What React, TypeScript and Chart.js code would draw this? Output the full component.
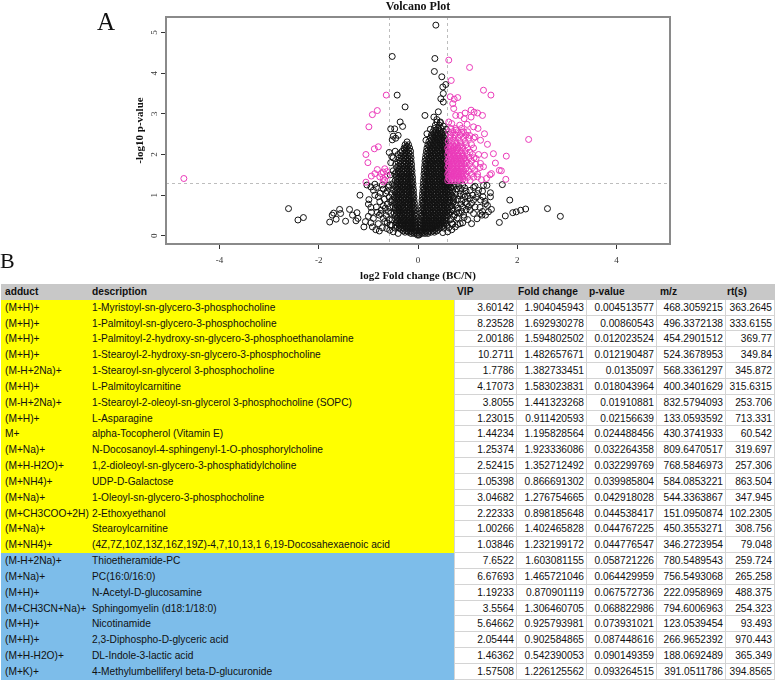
import React, { useEffect, useRef } from 'react';
import { Chart, registerables } from 'chart.js';

Chart.register(...registerables);

// ---------------- Volcano plot data ----------------
const xTicks = [-4, -2, 0, 2, 4];
const yTicks = [0, 1, 2, 3, 4, 5];
const fcCutoff = 0.585; // log2(1.5)
const pCutoff = 1.301; // -log10(0.05)

// dense left arm of the "V": [y, [x...]]
const coreLeft: [number, number[]][] = [
  [0.02, [-0.01]],
  [0.06, [-0.03, -0.08, -0.14]],
  [0.12, [-0.03, -0.09, -0.15, -0.22, -0.3]],
  [0.19, [-0.04, -0.1, -0.16, -0.23, -0.3, -0.38, -0.46]],
  [0.26, [-0.04, -0.1, -0.17, -0.24, -0.31, -0.38, -0.45, -0.53]],
  [0.33, [-0.04, -0.09, -0.15, -0.22, -0.29, -0.36, -0.44]],
  [0.4, [-0.05, -0.1, -0.17, -0.23, -0.3, -0.37, -0.45, -0.52]],
  [0.48, [-0.05, -0.11, -0.18, -0.25, -0.32, -0.39, -0.46]],
  [0.56, [-0.06, -0.12, -0.19, -0.26, -0.33, -0.41, -0.48, -0.55]],
  [0.64, [-0.06, -0.11, -0.18, -0.25, -0.31, -0.38, -0.45]],
  [0.72, [-0.07, -0.13, -0.2, -0.27, -0.34, -0.42, -0.5]],
  [0.8, [-0.07, -0.12, -0.19, -0.26, -0.33, -0.39, -0.47]],
  [0.88, [-0.08, -0.14, -0.21, -0.28, -0.35, -0.43, -0.52]],
  [0.96, [-0.08, -0.13, -0.2, -0.27, -0.34, -0.41, -0.48]],
  [1.04, [-0.09, -0.15, -0.22, -0.29, -0.36, -0.44, -0.53]],
  [1.12, [-0.09, -0.14, -0.21, -0.28, -0.35, -0.42, -0.49]],
  [1.2, [-0.1, -0.16, -0.23, -0.3, -0.37, -0.45]],
  [1.28, [-0.1, -0.15, -0.22, -0.29, -0.36, -0.43, -0.51]],
  [1.36, [-0.11, -0.17, -0.24, -0.31, -0.38, -0.46]],
  [1.44, [-0.11, -0.16, -0.23, -0.3, -0.37, -0.44]],
  [1.52, [-0.12, -0.18, -0.25, -0.32, -0.39, -0.47]],
  [1.6, [-0.12, -0.18, -0.25, -0.32, -0.4, -0.5]],
  [1.68, [-0.13, -0.19, -0.26, -0.34, -0.43]],
  [1.76, [-0.13, -0.2, -0.27, -0.35, -0.45]],
  [1.84, [-0.14, -0.2, -0.28, -0.36]],
  [1.92, [-0.14, -0.21, -0.29, -0.38, -0.5]],
  [2.0, [-0.15, -0.22, -0.3, -0.4]],
  [2.08, [-0.15, -0.23, -0.32, -0.46]],
  [2.16, [-0.17, -0.24, -0.28]],
  [2.24, [-0.19, -0.26]],
];

// the same arm, the features lying between the rows above
const coreLeftFill: [number, number[]][] = [
  [0.09, [-0.06, -0.12, -0.19, -0.26]],
  [0.16, [-0.06, -0.13, -0.2, -0.27, -0.34]],
  [0.23, [-0.07, -0.13, -0.2, -0.27, -0.35, -0.42]],
  [0.3, [-0.07, -0.13, -0.19, -0.26, -0.33, -0.4]],
  [0.37, [-0.07, -0.13, -0.2, -0.27, -0.34, -0.41]],
  [0.44, [-0.08, -0.14, -0.21, -0.28, -0.35, -0.42]],
  [0.52, [-0.08, -0.15, -0.22, -0.29, -0.36, -0.43]],
  [0.6, [-0.09, -0.15, -0.22, -0.29, -0.35, -0.42]],
  [0.68, [-0.09, -0.16, -0.23, -0.3, -0.38, -0.46]],
  [0.76, [-0.1, -0.16, -0.23, -0.3, -0.37, -0.43]],
  [0.84, [-0.1, -0.17, -0.24, -0.31, -0.39, -0.47]],
  [0.92, [-0.11, -0.17, -0.24, -0.31, -0.38, -0.45]],
  [1.0, [-0.11, -0.18, -0.25, -0.32, -0.4]],
  [1.08, [-0.12, -0.18, -0.25, -0.32, -0.39, -0.46]],
  [1.16, [-0.12, -0.19, -0.26, -0.33, -0.41]],
  [1.24, [-0.13, -0.19, -0.26, -0.33, -0.4, -0.48]],
  [1.32, [-0.13, -0.2, -0.27, -0.34, -0.42]],
  [1.4, [-0.14, -0.2, -0.27, -0.34, -0.41]],
  [1.48, [-0.14, -0.21, -0.28, -0.35, -0.43]],
  [1.56, [-0.15, -0.22, -0.29, -0.36, -0.44]],
  [1.64, [-0.15, -0.22, -0.29, -0.37]],
  [1.72, [-0.16, -0.23, -0.3, -0.39]],
  [1.8, [-0.17, -0.24, -0.31, -0.4]],
  [1.88, [-0.17, -0.24, -0.32]],
  [1.96, [-0.18, -0.25, -0.34]],
  [2.04, [-0.19, -0.26, -0.35]],
  [2.12, [-0.2, -0.27]],
  [2.2, [-0.22]],
];

// dense right arm of the "V" (non-significant part)
const coreRight: [number, number[]][] = [
  [0.02, [0.02]],
  [0.06, [0.03, 0.08, 0.14, 0.2]],
  [0.12, [0.03, 0.09, 0.16, 0.23, 0.3, 0.38]],
  [0.19, [0.04, 0.1, 0.17, 0.24, 0.3, 0.37, 0.44, 0.52]],
  [0.26, [0.04, 0.1, 0.17, 0.24, 0.31, 0.38, 0.45, 0.52, 0.58]],
  [0.33, [0.05, 0.11, 0.18, 0.25, 0.32, 0.39, 0.46, 0.53]],
  [0.4, [0.05, 0.12, 0.19, 0.26, 0.33, 0.4, 0.47, 0.54]],
  [0.48, [0.06, 0.11, 0.18, 0.25, 0.32, 0.39, 0.46, 0.53, 0.6]],
  [0.56, [0.06, 0.13, 0.2, 0.27, 0.34, 0.41, 0.48, 0.55, 0.62]],
  [0.64, [0.07, 0.12, 0.19, 0.26, 0.33, 0.4, 0.47, 0.54, 0.61, 0.68]],
  [0.72, [0.07, 0.14, 0.21, 0.28, 0.35, 0.42, 0.49, 0.56, 0.64]],
  [0.8, [0.08, 0.13, 0.2, 0.27, 0.34, 0.41, 0.48, 0.55, 0.62, 0.7]],
  [0.88, [0.08, 0.15, 0.22, 0.29, 0.36, 0.43, 0.5, 0.57, 0.65]],
  [0.96, [0.09, 0.14, 0.21, 0.28, 0.35, 0.42, 0.49, 0.56, 0.63, 0.71]],
  [1.04, [0.09, 0.16, 0.23, 0.3, 0.37, 0.44, 0.51, 0.58, 0.66]],
  [1.12, [0.1, 0.15, 0.22, 0.29, 0.36, 0.43, 0.5, 0.57, 0.64]],
  [1.2, [0.1, 0.17, 0.24, 0.31, 0.38, 0.45, 0.52, 0.59, 0.67]],
  [1.28, [0.11, 0.16, 0.23, 0.3, 0.37, 0.44, 0.51, 0.57, 0.63]],
  [1.36, [0.11, 0.18, 0.25, 0.32, 0.39, 0.46, 0.53]],
  [1.44, [0.12, 0.17, 0.24, 0.31, 0.38, 0.45, 0.52, 0.57]],
  [1.52, [0.12, 0.19, 0.26, 0.33, 0.4, 0.47, 0.54]],
  [1.6, [0.13, 0.18, 0.25, 0.32, 0.39, 0.46, 0.53, 0.58]],
  [1.68, [0.13, 0.2, 0.27, 0.34, 0.41, 0.48, 0.55]],
  [1.76, [0.14, 0.19, 0.26, 0.33, 0.4, 0.47, 0.54]],
  [1.84, [0.14, 0.21, 0.28, 0.35, 0.42, 0.49, 0.56]],
  [1.92, [0.15, 0.22, 0.29, 0.36, 0.43, 0.5, 0.57]],
  [2.0, [0.16, 0.23, 0.3, 0.37, 0.44, 0.51]],
  [2.08, [0.17, 0.24, 0.31, 0.38, 0.45, 0.52, 0.57]],
  [2.16, [0.18, 0.25, 0.32, 0.39, 0.46, 0.53]],
  [2.24, [0.2, 0.27, 0.34, 0.41, 0.48, 0.55]],
  [2.32, [0.22, 0.29, 0.36, 0.43, 0.5, 0.56]],
  [2.4, [0.25, 0.32, 0.39, 0.46, 0.53]],
  [2.48, [0.27, 0.34, 0.41, 0.48, 0.55]],
  [2.56, [0.3, 0.37, 0.44, 0.51]],
  [2.64, [0.33, 0.4, 0.47]],
  [2.72, [0.35, 0.43]],
  [2.8, [0.38, 0.45]],
];

// the same arm, the features lying between the rows above
const coreRightFill: [number, number[]][] = [
  [0.09, [0.06, 0.12, 0.19, 0.26, 0.33]],
  [0.16, [0.07, 0.13, 0.2, 0.27, 0.34, 0.41]],
  [0.23, [0.07, 0.14, 0.21, 0.28, 0.35, 0.42, 0.49]],
  [0.3, [0.08, 0.14, 0.21, 0.28, 0.35, 0.42, 0.49, 0.56]],
  [0.37, [0.08, 0.15, 0.22, 0.29, 0.36, 0.43, 0.5, 0.57]],
  [0.44, [0.09, 0.15, 0.22, 0.29, 0.36, 0.43, 0.5, 0.57]],
  [0.52, [0.09, 0.16, 0.23, 0.3, 0.37, 0.44, 0.51, 0.58]],
  [0.6, [0.1, 0.16, 0.23, 0.3, 0.37, 0.44, 0.51, 0.58]],
  [0.68, [0.1, 0.17, 0.24, 0.31, 0.38, 0.45, 0.52, 0.59]],
  [0.76, [0.11, 0.17, 0.24, 0.31, 0.38, 0.45, 0.52, 0.59]],
  [0.84, [0.11, 0.18, 0.25, 0.32, 0.39, 0.46, 0.53, 0.6]],
  [0.92, [0.12, 0.18, 0.25, 0.32, 0.39, 0.46, 0.53, 0.6]],
  [1.0, [0.12, 0.19, 0.26, 0.33, 0.4, 0.47, 0.54, 0.61]],
  [1.08, [0.13, 0.19, 0.26, 0.33, 0.4, 0.47, 0.54, 0.61]],
  [1.16, [0.13, 0.2, 0.27, 0.34, 0.41, 0.48, 0.55, 0.61]],
  [1.24, [0.14, 0.2, 0.27, 0.34, 0.41, 0.48, 0.54, 0.6]],
  [1.32, [0.14, 0.21, 0.28, 0.35, 0.42, 0.49, 0.56]],
  [1.4, [0.15, 0.21, 0.28, 0.35, 0.42, 0.49, 0.55]],
  [1.48, [0.15, 0.22, 0.29, 0.36, 0.43, 0.5, 0.56]],
  [1.56, [0.16, 0.22, 0.29, 0.36, 0.43, 0.5, 0.56]],
  [1.64, [0.16, 0.23, 0.3, 0.37, 0.44, 0.51, 0.57]],
  [1.72, [0.17, 0.23, 0.3, 0.37, 0.44, 0.51, 0.57]],
  [1.8, [0.17, 0.24, 0.31, 0.38, 0.45, 0.52]],
  [1.88, [0.18, 0.25, 0.32, 0.39, 0.46, 0.53]],
  [1.96, [0.19, 0.26, 0.33, 0.4, 0.47, 0.54]],
  [2.04, [0.2, 0.27, 0.34, 0.41, 0.48, 0.55]],
  [2.12, [0.21, 0.28, 0.35, 0.42, 0.49, 0.55]],
  [2.2, [0.23, 0.3, 0.37, 0.44, 0.51]],
  [2.28, [0.25, 0.31, 0.38, 0.45, 0.52]],
  [2.36, [0.27, 0.34, 0.41, 0.48, 0.54]],
  [2.44, [0.3, 0.37, 0.44, 0.51]],
  [2.52, [0.33, 0.4, 0.47]],
  [2.6, [0.36, 0.43]],
];

// scattered non-significant features [x, y]
const blackScatter: [number, number][] = [
  [0.36, 5.18], [-0.52, 4.41], [0.34, 4.36], [0.33, 4.04], [0.48, 3.91], [0.5, 3.66], [0.56, 3.72],
  [0.51, 3.5], [0.46, 3.37], [0.51, 3.29], [-0.42, 3.46], [-0.26, 3.17], [0.14, 2.96], [0.41, 3.05],
  [0.32, 2.92], [0.38, 2.86], [0.45, 2.78], [0.51, 2.7], [0.57, 2.62], [-0.36, 2.8], [-0.31, 2.69],
  [-0.55, 2.63], [-0.47, 2.63], [-0.5, 2.45], [-0.45, 2.4], [-0.52, 2.36], [-0.4, 2.47], [-0.22, 2.31],
  [0.18, 2.51], [0.16, 2.35], [0.25, 2.62], [-0.58, 2.05], [-0.53, 1.95], [-0.55, 1.8], [-0.56, 1.5],
  [-0.58, 1.25],
  [-2.61, 0.67], [-2.42, 0.39], [-2.31, 0.45], [-1.78, 0.34], [-1.73, 0.51], [-1.7, 0.56], [-1.58, 0.65],
  [-1.56, 0.55], [-1.65, 0.41], [-1.46, 0.36], [-1.38, 0.65], [-1.32, 0.51], [-1.23, 0.57], [-1.21, 0.43],
  [-1.25, 0.37], [-1.17, 1.0], [-1.09, 0.22], [-0.99, 0.89], [-0.95, 0.7], [-0.94, 0.58], [-0.9, 0.43],
  [-0.95, 0.32], [-0.92, 0.22], [-1.03, 1.25], [-0.87, 1.27], [-0.84, 1.19], [-0.87, 1.0], [-0.8, 0.96],
  [-0.77, 0.84], [-0.84, 0.71], [-0.74, 0.63], [-0.78, 0.51], [-0.7, 0.43], [-0.8, 0.3], [-0.72, 0.2],
  [-0.63, 0.18], [-0.57, 0.14], [-0.7, 1.15], [-0.65, 1.05], [-0.68, 0.9], [-0.62, 0.78], [-0.66, 0.68],
  [-0.6, 0.6], [-0.64, 0.5], [-0.58, 0.4], [-0.62, 0.32], [-0.56, 0.26], [-0.6, 1.2], [-0.72, 1.25],
  [-0.58, 0.95], [-0.55, 0.85], [-0.57, 0.7], [-0.75, 0.55], [-0.67, 0.35], [-0.85, 0.15], [-0.78, 0.12],
  [-0.9, 1.12], [-0.95, 1.2], [-1.0, 0.78], [-1.06, 0.35], [-1.0, 0.48], [-0.82, 0.58], [-0.7, 0.74],
  [-0.76, 1.05], [-0.5, 0.1], [-0.4, 0.06], [-0.62, 1.1],
  [2.61, 0.67], [2.87, 0.48], [2.17, 0.66], [2.07, 0.63], [1.98, 0.59], [1.91, 0.57], [1.85, 0.88],
  [1.76, 0.49], [1.64, 0.33], [1.7, 1.26], [1.46, 1.06], [1.46, 0.96], [1.39, 1.24], [1.32, 1.24],
  [1.48, 0.65], [1.42, 0.59], [1.29, 0.51], [0.9, 0.32], [0.8, 0.28], [0.68, 0.3], [0.72, 1.2],
  [0.85, 1.04], [1.05, 1.12], [1.12, 1.19], [1.15, 1.22], [1.2, 1.04], [1.31, 0.96], [1.26, 0.88],
  [1.12, 0.88], [0.99, 0.79], [1.05, 0.63], [1.26, 0.55], [1.36, 0.51], [0.92, 0.51], [0.78, 0.59],
  [0.72, 0.47], [0.85, 0.3], [0.7, 0.29], [1.05, 0.92], [0.95, 0.96], [1.15, 0.71], [1.36, 0.79],
  [0.62, 1.25], [0.66, 1.18], [0.7, 1.1], [0.75, 1.25], [0.78, 1.15], [0.82, 1.22], [0.86, 1.16],
  [0.9, 1.25], [0.94, 1.18], [0.68, 1.0], [0.72, 0.92], [0.76, 1.02], [0.8, 0.9], [0.84, 0.98],
  [0.88, 0.88], [0.92, 1.02], [0.97, 1.1], [1.0, 0.98], [0.64, 0.82], [0.68, 0.74], [0.72, 0.84],
  [0.77, 0.76], [0.81, 0.68], [0.86, 0.78], [0.9, 0.7], [0.95, 0.82], [0.65, 0.58], [0.7, 0.62],
  [0.74, 0.52], [0.79, 0.44], [0.83, 0.56], [0.88, 0.6], [0.93, 0.45], [0.97, 0.64], [1.02, 0.72],
  [1.08, 0.8], [1.1, 1.0], [1.18, 0.95], [1.22, 1.12], [1.25, 0.7], [1.3, 0.6], [0.66, 0.4],
  [0.62, 0.2], [0.68, 0.15], [0.75, 0.22], [1.0, 0.4], [1.12, 0.55], [1.19, 0.42], [1.35, 0.85],
  [1.4, 0.75], [1.08, 0.3], [1.3, 1.1], [0.6, 0.1], [0.5, 0.08],
];

// dense significant cluster right of the cut-off: [y, [x...]]
const sigCore: [number, number[]][] = [
  [1.36, [0.6, 0.66, 0.72, 0.79, 0.86, 0.95, 1.05]],
  [1.44, [0.62, 0.69, 0.76, 0.83, 0.9, 1.0, 1.12]],
  [1.52, [0.6, 0.66, 0.73, 0.8, 0.88, 0.97, 1.08, 1.2]],
  [1.6, [0.63, 0.7, 0.77, 0.84, 0.92, 1.02, 1.14]],
  [1.68, [0.6, 0.67, 0.74, 0.81, 0.89, 0.98, 1.1, 1.25]],
  [1.76, [0.62, 0.69, 0.76, 0.84, 0.93, 1.04, 1.16]],
  [1.84, [0.6, 0.66, 0.73, 0.8, 0.88, 0.97, 1.08]],
  [1.92, [0.63, 0.7, 0.77, 0.85, 0.94, 1.03, 1.13]],
  [2.0, [0.6, 0.67, 0.74, 0.82, 0.9, 0.99, 1.1, 1.22]],
  [2.08, [0.62, 0.69, 0.77, 0.86, 0.95]],
  [2.16, [0.6, 0.66, 0.73, 0.81, 0.9, 1.0, 1.12]],
  [2.24, [0.63, 0.7, 0.78, 0.87, 0.97, 1.08]],
  [2.32, [0.61, 0.68, 0.76, 0.85, 0.95]],
  [2.4, [0.64, 0.72, 0.81, 0.92, 1.02, 1.12]],
  [2.48, [0.66, 0.75, 0.85, 0.97]],
  [2.56, [0.62, 0.7, 0.8, 0.92, 1.0]],
  [2.64, [0.66, 0.76, 0.88]],
];

const sigCoreFill: [number, number[]][] = [
  [1.4, [0.63, 0.69, 0.76, 0.83, 0.91]],
  [1.48, [0.64, 0.71, 0.78, 0.86, 0.94]],
  [1.56, [0.62, 0.68, 0.75, 0.82, 0.9]],
  [1.64, [0.65, 0.72, 0.79, 0.87, 0.96]],
  [1.72, [0.63, 0.7, 0.78, 0.86]],
  [1.8, [0.64, 0.71, 0.79, 0.88, 0.98]],
  [1.88, [0.62, 0.68, 0.76, 0.84, 0.92]],
  [1.96, [0.65, 0.72, 0.8, 0.89]],
  [2.04, [0.64, 0.71, 0.79, 0.88]],
  [2.12, [0.63, 0.7, 0.78]],
  [2.2, [0.66, 0.74, 0.84]],
];

// scattered significant features [x, y]
const sigScatter: [number, number][] = [
  [-4.72, 1.41], [-0.64, 3.46], [-0.82, 3.08], [-0.92, 2.98], [-0.99, 2.68], [-0.8, 2.19], [-0.88, 2.14],
  [-1.05, 2.0], [-1.01, 1.8], [-0.82, 1.63], [-0.67, 1.65], [-0.74, 1.53], [-0.7, 1.41], [-0.94, 1.47],
  [-1.05, 1.32], [-0.87, 1.53], [-0.77, 1.45], [-0.67, 1.37], [-0.62, 1.48], [-0.7, 1.57], [-0.63, 1.58],
  [-0.7, 1.33],
  [0.62, 4.32], [1.04, 4.14], [0.67, 3.82], [1.32, 3.58], [1.47, 3.46], [0.65, 3.42], [0.73, 3.36],
  [0.8, 3.4], [0.7, 3.25], [0.72, 3.13], [0.76, 2.96], [0.85, 2.96], [0.95, 3.02], [1.07, 3.09],
  [1.13, 3.04], [1.2, 3.02], [1.3, 2.96], [1.07, 2.92], [0.93, 2.88], [0.62, 2.8], [0.68, 2.76],
  [0.84, 2.72], [0.99, 2.74], [1.12, 2.68], [1.21, 2.64], [1.34, 2.51], [0.77, 2.6], [0.88, 2.55],
  [1.04, 2.47], [1.15, 2.43], [1.26, 2.35], [1.4, 2.25], [1.52, 2.02], [1.78, 1.96], [2.23, 2.37],
  [1.34, 1.98], [1.56, 1.79], [1.64, 1.61], [1.68, 1.6], [1.48, 1.53], [1.38, 1.41], [1.77, 1.39],
  [1.26, 1.78], [1.32, 1.7], [1.17, 1.9], [1.05, 2.06], [1.45, 1.5], [1.2, 1.45], [1.28, 1.38],
];

// ---------------- Table data ----------------
const tableHeaders = ['adduct', 'description', 'VIP', 'Fold change', 'p-value', 'm/z', 'rt(s)'];
const adducts = [
  '(M+H)+', '(M+H)+', '(M+H)+', '(M+H)+', '(M-H+2Na)+', '(M+H)+', '(M-H+2Na)+', '(M+H)+', 'M+',
  '(M+Na)+', '(M+H-H2O)+', '(M+NH4)+', '(M+Na)+', '(M+CH3COO+2H)', '(M+Na)+', '(M+NH4)+',
  '(M-H+2Na)+', '(M+Na)+', '(M+H)+', '(M+CH3CN+Na)+', '(M+H)+', '(M+H)+', '(M+H-H2O)+', '(M+K)+',
];
const descriptions = [
  '1-Myristoyl-sn-glycero-3-phosphocholine',
  '1-Palmitoyl-sn-glycero-3-phosphocholine',
  '1-Palmitoyl-2-hydroxy-sn-glycero-3-phosphoethanolamine',
  '1-Stearoyl-2-hydroxy-sn-glycero-3-phosphocholine',
  '1-Stearoyl-sn-glycerol 3-phosphocholine',
  'L-Palmitoylcarnitine',
  '1-Stearoyl-2-oleoyl-sn-glycerol 3-phosphocholine (SOPC)',
  'L-Asparagine',
  'alpha-Tocopherol (Vitamin E)',
  'N-Docosanoyl-4-sphingenyl-1-O-phosphorylcholine',
  '1,2-dioleoyl-sn-glycero-3-phosphatidylcholine',
  'UDP-D-Galactose',
  '1-Oleoyl-sn-glycero-3-phosphocholine',
  '2-Ethoxyethanol',
  'Stearoylcarnitine',
  '(4Z,7Z,10Z,13Z,16Z,19Z)-4,7,10,13,1 6,19-Docosahexaenoic acid',
  'Thioetheramide-PC',
  'PC(16:0/16:0)',
  'N-Acetyl-D-glucosamine',
  'Sphingomyelin (d18:1/18:0)',
  'Nicotinamide',
  '2,3-Diphospho-D-glyceric acid',
  'DL-Indole-3-lactic acid',
  '4-Methylumbelliferyl beta-D-glucuronide',
];
const vipValues = [
  '3.60142', '8.23528', '2.00186', '10.2711', '1.7786', '4.17073', '3.8055', '1.23015', '1.44234',
  '1.25374', '2.52415', '1.05398', '3.04682', '2.22333', '1.00266', '1.03846', '7.6522', '6.67693',
  '1.19233', '3.5564', '5.64662', '2.05444', '1.46362', '1.57508',
];
const foldChanges = [
  '1.904045943', '1.692930278', '1.594802502', '1.482657671', '1.382733451', '1.583023831',
  '1.441323268', '0.911420593', '1.195828564', '1.923336086', '1.352712492', '0.866691302',
  '1.276754665', '0.898185648', '1.402465828', '1.232199172', '1.603081155', '1.465721046',
  '0.870901119', '1.306460705', '0.925793981', '0.902584865', '0.542390053', '1.226125562',
];
const pValues = [
  '0.004513577', '0.00860543', '0.012023524', '0.012190487', '0.0135097', '0.018043964',
  '0.01910881', '0.02156639', '0.024488456', '0.032264358', '0.032299769', '0.039985804',
  '0.042918028', '0.044538417', '0.044767225', '0.044776547', '0.058721226', '0.064429959',
  '0.067572736', '0.068822986', '0.073931021', '0.087448616', '0.090149359', '0.093264515',
];
const mzValues = [
  '468.3059215', '496.3372138', '454.2901512', '524.3678953', '568.3361297', '400.3401629',
  '832.5794093', '133.0593592', '430.3741933', '809.6470517', '768.5846973', '584.0853221',
  '544.3363867', '151.0950874', '450.3553271', '346.2723954', '780.5489543', '756.5493068',
  '222.0958969', '794.6006963', '123.0539454', '266.9652392', '188.0692489', '391.0511786',
];
const rtValues = [
  '363.2645', '333.6155', '369.77', '349.84', '345.872', '315.6315', '253.706', '713.331', '60.542',
  '319.697', '257.306', '863.504', '347.945', '102.2305', '308.756', '79.048', '259.724', '265.258',
  '488.375', '254.323', '93.493', '970.443', '365.349', '394.8565',
];
const significantRowCount = 16; // rows with p < 0.05 (yellow), the rest blue

const expandRows = (rows: [number, number[]][]) =>
  rows.flatMap(([y, xs]) => xs.map((x) => ({ x, y })));
const toPts = (arr: [number, number][]) => arr.map(([x, y]) => ({ x, y }));

const SERIF = '"Liberation Serif", "Times New Roman", serif';
const SANS = '"Liberation Sans", Arial, sans-serif';

function Volcano() {
  const ref = useRef<HTMLCanvasElement>(null);
  useEffect(() => {
    const canvas = ref.current!;
    const blackPts = [
      ...expandRows(coreLeft),
      ...expandRows(coreLeftFill),
      ...expandRows(coreRight),
      ...expandRows(coreRightFill),
      ...toPts(blackScatter),
    ];
    const sigPts = [...expandRows(sigCore), ...expandRows(sigCoreFill), ...toPts(sigScatter)];

    const overlay = {
      id: 'overlay',
      beforeDatasetsDraw(chart: any) {
        const { ctx, chartArea: a, scales } = chart;
        const xs = scales.x;
        const ys = scales.y;
        ctx.save();
        ctx.strokeStyle = '#bdbdbd';
        ctx.lineWidth = 1;
        ctx.setLineDash([3, 3]);
        for (const v of [-fcCutoff, fcCutoff]) {
          const px = Math.round(xs.getPixelForValue(v)) + 0.5;
          ctx.beginPath();
          ctx.moveTo(px, a.top);
          ctx.lineTo(px, a.bottom);
          ctx.stroke();
        }
        const py = Math.round(ys.getPixelForValue(pCutoff)) + 0.5;
        ctx.beginPath();
        ctx.moveTo(a.left, py);
        ctx.lineTo(a.right, py);
        ctx.stroke();
        ctx.restore();
      },
      afterDraw(chart: any) {
        const { ctx, chartArea: a, scales } = chart;
        ctx.save();
        ctx.strokeStyle = '#8a8a8a';
        ctx.lineWidth = 2;
        ctx.strokeRect(a.left, a.top, a.right - a.left, a.bottom - a.top);
        // rotated y tick labels (R style)
        ctx.fillStyle = '#333';
        ctx.font = `9px ${SERIF}`;
        ctx.textAlign = 'center';
        ctx.textBaseline = 'alphabetic';
        for (const v of yTicks) {
          const py = scales.y.getPixelForValue(v);
          ctx.save();
          ctx.translate(157, py);
          ctx.rotate(-Math.PI / 2);
          ctx.fillText(String(v), 0, 0);
          ctx.restore();
        }
        const cx = (a.left + a.right) / 2;
        ctx.fillStyle = '#111';
        ctx.font = `bold 12px ${SERIF}`;
        ctx.fillText('Volcano Plot', cx, 10);
        ctx.font = `bold 11px ${SERIF}`;
        ctx.fillText('log2 Fold change (BC/N)', cx, 279);
        ctx.save();
        ctx.translate(143, (a.top + a.bottom) / 2);
        ctx.rotate(-Math.PI / 2);
        ctx.fillText('-log10 p-value', 0, 0);
        ctx.restore();
        ctx.textAlign = 'left';
        ctx.font = `25px ${SERIF}`;
        ctx.fillText('A', 97, 30);
        ctx.font = `22px ${SERIF}`;
        ctx.fillText('B', 0, 268);
        ctx.restore();
      },
    };

    const tickFont = { family: SERIF, size: 9 };
    const chart = new Chart(canvas, {
      type: 'scatter',
      data: {
        datasets: [
          {
            label: 'significant',
            data: sigPts,
            pointRadius: 3,
            pointHoverRadius: 3,
            pointBorderWidth: 1,
            pointBorderColor: '#ea3ab9',
            pointBackgroundColor: 'rgba(0,0,0,0)',
            borderColor: '#ea3ab9',
            backgroundColor: 'rgba(0,0,0,0)',
          },
          {
            label: 'not significant',
            data: blackPts,
            pointRadius: 3,
            pointHoverRadius: 3,
            pointBorderWidth: 1,
            pointBorderColor: '#111',
            pointBackgroundColor: 'rgba(0,0,0,0)',
            borderColor: '#111',
            backgroundColor: 'rgba(0,0,0,0)',
          },
        ],
      },
      options: {
        responsive: false,
        animation: false,
        events: [],
        layout: { padding: { left: 136, right: 108, top: 17, bottom: 20 } },
        plugins: { legend: { display: false }, tooltip: { enabled: false }, title: { display: false } },
        scales: {
          x: {
            type: 'linear',
            min: -5.08,
            max: 5.08,
            afterBuildTicks: (s: any) => {
              s.ticks = xTicks.map((v) => ({ value: v }));
            },
            afterFit: (s: any) => {
              s.height = 20;
            },
            grid: { drawOnChartArea: false, drawTicks: true, tickLength: 5, color: '#333' },
            border: { display: false },
            ticks: { font: tickFont, color: '#333', padding: 6, maxRotation: 0 },
          },
          y: {
            type: 'linear',
            min: -0.2,
            max: 5.38,
            afterBuildTicks: (s: any) => {
              s.ticks = yTicks.map((v) => ({ value: v }));
            },
            afterFit: (s: any) => {
              s.width = 30;
            },
            grid: { drawOnChartArea: false, drawTicks: true, tickLength: 5, color: '#333' },
            border: { display: false },
            ticks: { display: false },
          },
        },
      },
      plugins: [overlay],
    });
    return () => chart.destroy();
  }, []);
  return (
    <canvas
      ref={ref}
      width={778}
      height={284}
      style={{ position: 'absolute', left: 0, top: 0, width: 778, height: 284 }}
    />
  );
}

const TABLE_TOP = 284;
const ROW_H = 15.83;
const numCols = [
  { left: 454, width: 63 },
  { left: 517, width: 70 },
  { left: 587, width: 70 },
  { left: 657, width: 69 },
  { left: 726, width: 49 },
];
const GRID = '#d4d4d4';

function ResultTable() {
  const textBase: React.CSSProperties = {
    position: 'absolute',
    top: 0,
    height: ROW_H,
    lineHeight: `${ROW_H}px`,
    whiteSpace: 'nowrap',
    boxSizing: 'border-box',
  };
  const rows = adducts.map((ad, i) => {
    const bg = i < significantRowCount ? '#ffff00' : '#7dbdea';
    const nums = [vipValues[i], foldChanges[i], pValues[i], mzValues[i], rtValues[i]];
    return (
      <div
        key={i}
        style={{ position: 'absolute', left: 0, top: TABLE_TOP + (i + 1) * ROW_H, width: 778, height: ROW_H }}
      >
        <div style={{ ...textBase, left: 1, width: 453, background: bg }} />
        <div style={{ ...textBase, left: 5 }}>{ad}</div>
        <div style={{ ...textBase, left: 92 }}>{descriptions[i]}</div>
        {nums.map((v, j) => (
          <div
            key={j}
            style={{
              ...textBase,
              left: numCols[j].left,
              width: numCols[j].width,
              textAlign: 'right',
              paddingRight: 2,
              background: '#fff',
              borderRight: `1px solid ${GRID}`,
              borderBottom: `1px solid ${GRID}`,
              borderLeft: j === 0 ? `1px solid ${GRID}` : undefined,
            }}
          >
            {v}
          </div>
        ))}
      </div>
    );
  });
  const headerLefts = [5, 92, 457, 518, 589, 660, 727];
  return (
    <div style={{ position: 'absolute', left: 0, top: 0, width: 778, height: 680, font: `10.2px ${SANS}`, color: '#111' }}>
      <div style={{ position: 'absolute', left: 1, top: TABLE_TOP, width: 774, height: ROW_H, background: '#c8c8c8' }} />
      {tableHeaders.map((h, k) => (
        <div
          key={h}
          style={{ ...textBase, top: TABLE_TOP, left: headerLefts[k], fontWeight: 'bold' }}
        >
          {h}
        </div>
      ))}
      {rows}
    </div>
  );
}

export default function App() {
  return (
    <div style={{ position: 'absolute', left: 0, top: 0, width: 778, height: 680, background: '#fff', overflow: 'hidden' }}>
      <Volcano />
      <ResultTable />
    </div>
  );
}
